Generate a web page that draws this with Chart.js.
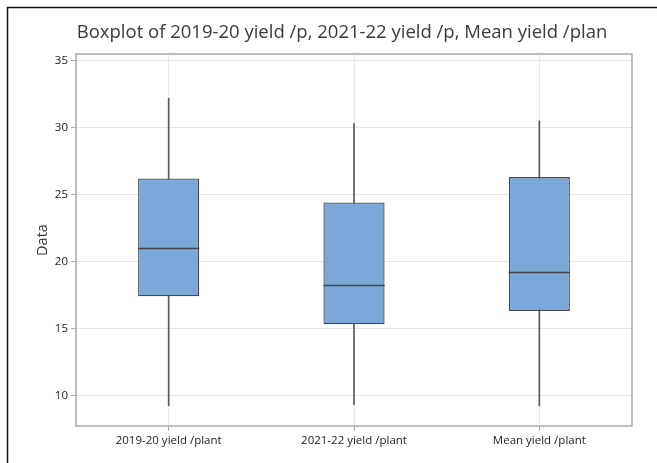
<!DOCTYPE html>
<html>
<head>
<meta charset="utf-8">
<script src="https://cdn.jsdelivr.net/npm/chart.js@4.4.1/dist/chart.umd.min.js"></script>
<style>
  html, body { margin: 0; padding: 0; background: #ffffff; }
  #wrap { width: 657px; height: 463px; position: relative; }
</style>
</head>
<body>
<div id="wrap"><canvas id="c" width="657" height="463"></canvas></div>
<script>
// Summary statistics for each yield variable
const categories  = ['2019-20 yield /plant', '2021-22 yield /plant', 'Mean yield /plant'];
const whiskerLow  = [9.2, 9.3, 9.2];
const quartile1   = [17.4, 15.3, 16.3];
const medians     = [21.0, 18.2, 19.2];
const quartile3   = [26.2, 24.4, 26.3];
const whiskerHigh = [32.2, 30.3, 30.5];
const yTicks      = [10, 15, 20, 25, 30, 35];
const titleText   = 'Boxplot of 2019-20 yield /p, 2021-22 yield /p, Mean yield /plan';

const FONT = "'Open Sans', 'Noto Sans', sans-serif";

// Page frame, white background and the title text
const framePlugin = {
  id: 'frame',
  beforeDraw(chart) {
    const ctx = chart.ctx;
    ctx.save();
    ctx.fillStyle = '#ffffff';
    ctx.fillRect(0, 0, chart.width, chart.height);
    ctx.strokeStyle = '#111111';
    ctx.lineWidth = 1.5;
    ctx.beginPath();
    ctx.moveTo(7.5, chart.height);
    ctx.lineTo(7.5, 7.5);
    ctx.lineTo(chart.width, 7.5);
    ctx.stroke();
    ctx.fillStyle = '#3a3a3a';
    ctx.font = '18.5px ' + FONT;
    ctx.textAlign = 'center';
    ctx.textBaseline = 'middle';
    ctx.fillText(titleText, 342, 33);
    ctx.restore();
  }
};

// Median lines across each box and the border round the plot area
const boxPlugin = {
  id: 'boxExtras',
  afterDatasetsDraw(chart) {
    const ctx = chart.ctx;
    const yScale = chart.scales.y;
    const meta = chart.getDatasetMeta(0);
    ctx.save();
    ctx.strokeStyle = '#454545';
    ctx.lineWidth = 1.3;
    meta.data.forEach((bar, i) => {
      const half = bar.width / 2;
      const y = Math.round(yScale.getPixelForValue(medians[i])) + 0.5;
      ctx.beginPath();
      ctx.moveTo(bar.x - half, y);
      ctx.lineTo(bar.x + half, y);
      ctx.stroke();
    });
    const a = chart.chartArea;
    ctx.strokeStyle = '#a8a8a8';
    ctx.lineWidth = 1.5;
    ctx.strokeRect(a.left, a.top, a.right - a.left, a.bottom - a.top);
    ctx.restore();
  }
};

new Chart(document.getElementById('c'), {
  type: 'bar',
  data: {
    labels: categories,
    datasets: [
      {
        label: 'box',
        data: categories.map((_, i) => [quartile1[i], quartile3[i]]),
        backgroundColor: '#7ba7d9',
        borderColor: '#4a4a4a',
        borderWidth: 1.3,
        borderSkipped: false,
        barPercentage: 0.33,
        categoryPercentage: 1,
        grouped: false,
        order: 0
      },
      {
        label: 'whisker',
        data: categories.map((_, i) => [whiskerLow[i], whiskerHigh[i]]),
        backgroundColor: '#5a5a5a',
        borderWidth: 0,
        barThickness: 1,
        grouped: false,
        order: 1
      }
    ]
  },
  options: {
    responsive: false,
    animation: false,
    events: [],
    layout: { padding: { left: 0, right: 25, top: 54, bottom: 0 } },
    plugins: {
      legend: { display: false },
      tooltip: { enabled: false },
      title: { display: false }
    },
    scales: {
      x: {
        offset: true,
        grid: { offset: false, color: '#e8e8e8', lineWidth: 1, tickLength: 5, tickColor: '#a8a8a8', drawTicks: true },
        border: { display: false },
        ticks: { color: '#222222', font: { family: FONT, size: 11.5 }, padding: 3, maxRotation: 0 },
        afterFit(scale) { scale.height = 37; }
      },
      y: {
        min: 7.7,
        max: 35.5,
        grid: { color: '#e6e6e6', lineWidth: 1, tickLength: 5, tickColor: '#a8a8a8' },
        border: { display: false },
        afterBuildTicks(scale) { scale.ticks = yTicks.map(v => ({ value: v })); },
        ticks: { color: '#222222', font: { family: FONT, size: 11.5 }, padding: 3 },
        title: {
          display: true,
          text: 'Data',
          color: '#3a3a3a',
          font: { family: FONT, size: 14.5 },
          padding: { top: 34, bottom: 0 }
        },
        afterFit(scale) { scale.width = 76; }
      }
    }
  },
  plugins: [framePlugin, boxPlugin]
});
</script>
</body>
</html>
